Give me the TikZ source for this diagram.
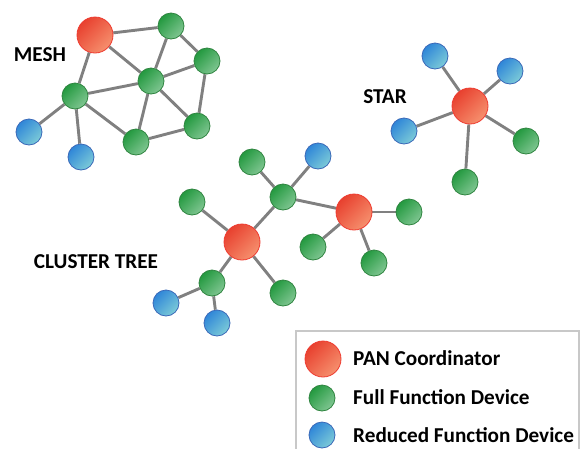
\documentclass[tikz,border=0pt]{standalone}
\usepackage{fontspec}
\setmainfont{Carlito}
\usetikzlibrary{backgrounds}
\definecolor{rdark}{HTML}{E8412F}
\definecolor{rlight}{HTML}{F6906E}
\definecolor{rborder}{HTML}{EE3B30}
\definecolor{gdark}{HTML}{23993F}
\definecolor{glight}{HTML}{80C692}
\definecolor{gborder}{HTML}{2F8440}
\definecolor{bdark}{HTML}{2F86D8}
\definecolor{bmid}{HTML}{3FC1EC}
\definecolor{blight}{HTML}{7CCBD8}
\definecolor{bborder}{HTML}{3A68B8}
\definecolor{linkgray}{HTML}{808080}
\definecolor{boxgray}{HTML}{C8C8C8}
\tikzset{
  coordnode/.style={circle, minimum size=36pt, inner sep=0pt, draw=rborder, line width=0.8pt,
    top color=rdark, bottom color=rlight, shading angle=45},
  ffdnode/.style={circle, minimum size=26pt, inner sep=0pt, draw=gborder, line width=0.8pt,
    top color=gdark, bottom color=glight, shading angle=45},
  rfdnode/.style={circle, minimum size=26pt, inner sep=0pt, draw=bborder, line width=0.8pt,
    top color=bdark, middle color=bmid, bottom color=blight, shading angle=45},
  link/.style={draw=linkgray, line width=2.9pt},
  lbl/.style={font=\bfseries\fontsize{21.2}{24}\selectfont, inner sep=0pt},
  legtext/.style={font=\bfseries\fontsize{21.2}{24}\selectfont, inner sep=0pt, anchor=west},
  legendbox/.style={draw=boxgray, line width=1.5pt}
}
\begin{document}
\begin{tikzpicture}[x=1pt,y=-1pt]
\useasboundingbox (0,0) rectangle (587,448);
% legend box
\coordinate (boxa) at (296,331);
\coordinate (boxb) at (579,460);
\draw[legendbox] (boxa) rectangle (boxb);

% MESH
\node[lbl] (meshlbl) at (40,55) {MESH};
\node[coordnode] (mr) at (95,35) {};
\node[ffdnode] (m1) at (171,26) {};
\node[ffdnode] (m2) at (207,61) {};
\node[ffdnode] (m3) at (151,81) {};
\node[ffdnode] (m4) at (75,96) {};
\node[ffdnode] (m5) at (197,126) {};
\node[ffdnode] (m6) at (136,142) {};
\node[rfdnode] (mb1) at (29,132) {};
\node[rfdnode] (mb2) at (81,157) {};

% STAR
\node[lbl] (starlbl) at (385,97) {STAR};
\node[coordnode] (sr) at (470,106) {};
\node[rfdnode] (sb1) at (435,56) {};
\node[rfdnode] (sb2) at (510,71) {};
\node[rfdnode] (sb3) at (404,131) {};
\node[ffdnode] (sg1) at (526,141) {};
\node[ffdnode] (sg2) at (465,182) {};

% CLUSTER TREE
\node[lbl] (treelbl) at (96,262) {CLUSTER TREE};
\node[coordnode] (tr1) at (242,242) {};
\node[coordnode] (tr2) at (354,212) {};
\node[ffdnode] (th) at (283,197) {};
\node[ffdnode] (tt) at (252,162) {};
\node[rfdnode] (tb) at (318,156) {};
\node[ffdnode] (tl) at (192,202) {};
\node[ffdnode] (tg1) at (409,212) {};
\node[ffdnode] (tg2) at (313,247) {};
\node[ffdnode] (tg3) at (374,263) {};
\node[ffdnode] (tll) at (212,283) {};
\node[ffdnode] (tlr) at (283,293) {};
\node[rfdnode] (tb1) at (166,303) {};
\node[rfdnode] (tb2) at (217,323) {};

% LEGEND
\node[coordnode] (lr) at (323,359) {};
\node[ffdnode] (lg) at (322,398) {};
\node[rfdnode] (lb) at (322,435) {};
\node[legtext] (lrt) at (353,358) {PAN Coordinator};
\node[legtext] (lgt) at (353,397) {Full Function Device};
\node[legtext] (lbt) at (353,435) {Reduced Function Device};

\begin{scope}[on background layer]
\draw[link] (mr) -- (m1);
\draw[link] (mr) -- (m3);
\draw[link] (mr) -- (m4);
\draw[link] (m1) -- (m3);
\draw[link] (m1) -- (m2);
\draw[link] (m2) -- (m3);
\draw[link] (m2) -- (m5);
\draw[link] (m3) -- (m4);
\draw[link] (m3) -- (m6);
\draw[link] (m3) -- (m5);
\draw[link] (m4) -- (m6);
\draw[link] (m6) -- (m5);
\draw[link] (m4) -- (mb1);
\draw[link] (m4) -- (mb2);

\draw[link] (sr) -- (sb1);
\draw[link] (sr) -- (sb2);
\draw[link] (sr) -- (sb3);
\draw[link] (sr) -- (sg1);
\draw[link] (sr) -- (sg2);

\draw[link] (tr1) -- (th);
\draw[link] (th) -- (tt);
\draw[link] (th) -- (tb);
\draw[link] (th) -- (tr2);
\draw[link] (tr1) -- (tl);
\draw[link] (tr1) -- (tll);
\draw[link] (tr1) -- (tlr);
\draw[link] (tr2) -- (tg1);
\draw[link] (tr2) -- (tg2);
\draw[link] (tr2) -- (tg3);
\draw[link] (tll) -- (tb1);
\draw[link] (tll) -- (tb2);
\end{scope}
\end{tikzpicture}
\end{document}
